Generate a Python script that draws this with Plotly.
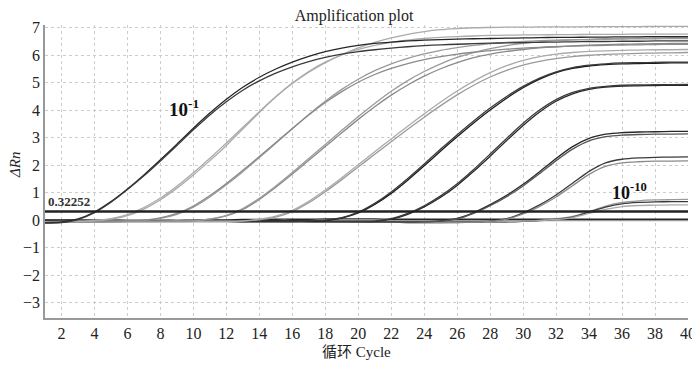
import plotly.graph_objects as go

cycles = list(range(1, 41))
threshold = 0.32252
x_ticks = list(range(2, 41, 2))
y_ticks = list(range(-3, 8))

d1a = [-0.08,-0.06,0.05,0.30,0.68,1.14,1.65,2.20,2.77,3.35, 3.90,4.40,4.84,5.20,5.50,5.75,5.96,6.13,6.26,6.36, 6.43,6.48,6.52,6.55,6.57,6.59,6.60,6.61,6.62,6.63, 6.64,6.65,6.65,6.66,6.66,6.67,6.67,6.68,6.68,6.68]
d1b = [-0.10,-0.08,0.03,0.28,0.66,1.12,1.62,2.16,2.72,3.29, 3.83,4.31,4.73,5.07,5.35,5.58,5.77,5.92,6.04,6.13, 6.20,6.26,6.31,6.35,6.38,6.40,6.42,6.44,6.45,6.46, 6.47,6.48,6.49,6.50,6.50,6.51,6.51,6.52,6.52,6.52]
d2a = [-0.06,-0.05,-0.04,-0.02,0.04,0.17,0.41,0.75,1.17,1.65, 2.17,2.72,3.32,3.92,4.49,4.99,5.41,5.75,6.01,6.21, 6.36,6.47,6.55,6.61,6.65,6.68,6.70,6.72,6.73,6.74, 6.74,6.75,6.75,6.76,6.76,6.76,6.77,6.77,6.77,6.77]
d2b = [-0.05,-0.04,-0.03,-0.01,0.06,0.21,0.46,0.81,1.24,1.73, 2.26,2.81,3.38,3.95,4.49,4.97,5.38,5.73,6.02,6.27, 6.47,6.63,6.76,6.86,6.93,6.97,7.00,7.01,7.02,7.02, 7.03,7.03,7.03,7.04,7.04,7.04,7.04,7.05,7.05,7.05]
d3a = [-0.05,-0.05,-0.04,-0.04,-0.03,-0.02,0.00,0.07,0.22,0.48, 0.85,1.29,1.77,2.28,2.80,3.33,3.85,4.33,4.76,5.13, 5.44,5.69,5.89,6.05,6.18,6.28,6.36,6.42,6.47,6.50, 6.53,6.55,6.56,6.57,6.58,6.59,6.60,6.60,6.61,6.61]
d3b = [-0.06,-0.05,-0.05,-0.04,-0.03,-0.02,0.01,0.09,0.25,0.52, 0.90,1.34,1.82,2.32,2.83,3.34,3.83,4.28,4.68,5.02, 5.30,5.52,5.70,5.84,5.95,6.04,6.11,6.17,6.22,6.26, 6.29,6.31,6.33,6.35,6.36,6.37,6.38,6.39,6.40,6.40]
d4a = [-0.06,-0.06,-0.05,-0.05,-0.05,-0.04,-0.04,-0.04,-0.03,-0.02, 0.04,0.16,0.40,0.76,1.20,1.68,2.18,2.68,3.18,3.67, 4.13,4.55,4.92,5.24,5.51,5.73,5.91,6.04,6.14,6.21, 6.27,6.31,6.34,6.37,6.39,6.40,6.41,6.42,6.43,6.43]
d4b = [-0.05,-0.05,-0.05,-0.04,-0.04,-0.04,-0.03,-0.03,-0.02,-0.02, 0.05,0.18,0.43,0.80,1.25,1.74,2.25,2.76,3.27,3.77, 4.25,4.69,5.08,5.41,5.69,5.92,6.10,6.24,6.35,6.43, 6.49,6.53,6.56,6.58,6.60,6.61,6.62,6.63,6.64,6.64]
d5a = [-0.07,-0.07,-0.06,-0.06,-0.06,-0.05,-0.05,-0.05,-0.05,-0.04, -0.04,-0.04,-0.03,0.02,0.12,0.32,0.64,1.04,1.48,1.94, 2.40,2.86,3.31,3.75,4.17,4.56,4.91,5.21,5.45,5.64, 5.78,5.88,5.95,6.00,6.03,6.05,6.07,6.08,6.09,6.10]
d5b = [-0.06,-0.06,-0.06,-0.05,-0.05,-0.05,-0.05,-0.04,-0.04,-0.04, -0.03,-0.03,-0.02,0.04,0.15,0.36,0.69,1.10,1.55,2.02, 2.49,2.96,3.42,3.87,4.30,4.70,5.06,5.37,5.62,5.81, 5.95,6.04,6.10,6.14,6.16,6.18,6.19,6.20,6.20,6.21]
d6a = [-0.03,-0.03,-0.02,-0.02,-0.02,-0.02,-0.01,-0.01,-0.01,-0.01, -0.02,-0.02,-0.02,-0.03,-0.03,-0.03,-0.04,-0.01,0.08,0.27, 0.58,0.98,1.46,1.98,2.52,3.04,3.54,4.01,4.44,4.82, 5.13,5.37,5.52,5.61,5.66,5.69,5.70,5.71,5.72,5.72]
d6b = [-0.04,-0.03,-0.03,-0.03,-0.02,-0.02,-0.02,-0.02,-0.02,-0.02, -0.02,-0.03,-0.03,-0.03,-0.03,-0.04,-0.03,0.01,0.10,0.30, 0.62,1.03,1.52,2.05,2.59,3.11,3.61,4.08,4.50,4.87, 5.17,5.40,5.55,5.64,5.69,5.72,5.73,5.74,5.75,5.75]
d7a = [0.02,0.02,0.01,0.01,0.01,0.00,0.00,0.00,-0.01,-0.01, -0.01,-0.02,-0.02,-0.02,-0.03,-0.03,-0.03,-0.04,-0.04,-0.04, -0.04,0.04,0.22,0.49,0.84,1.27,1.78,2.33,2.90,3.45, 3.94,4.33,4.60,4.76,4.84,4.88,4.89,4.90,4.91,4.91]
d7b = [0.00,0.00,0.00,-0.01,-0.01,-0.01,-0.01,-0.02,-0.02,-0.02, -0.02,-0.03,-0.03,-0.03,-0.03,-0.04,-0.04,-0.04,-0.04,-0.04, -0.03,0.06,0.25,0.53,0.89,1.33,1.85,2.41,2.98,3.53, 4.01,4.39,4.65,4.80,4.87,4.91,4.92,4.93,4.93,4.94]
d8a = [-0.04,-0.04,-0.03,-0.03,-0.03,-0.02,-0.02,-0.02,-0.02,-0.02, -0.02,-0.03,-0.03,-0.03,-0.03,-0.04,-0.04,-0.04,-0.05,-0.05, -0.05,-0.05,-0.06,-0.05,-0.02,0.07,0.28,0.57,0.91,1.31, 1.77,2.25,2.68,2.98,3.13,3.19,3.21,3.22,3.23,3.23]
d8b = [-0.05,-0.05,-0.04,-0.04,-0.04,-0.03,-0.03,-0.03,-0.03,-0.03, -0.03,-0.03,-0.04,-0.04,-0.04,-0.05,-0.05,-0.05,-0.05,-0.06, -0.06,-0.06,-0.06,-0.05,-0.03,0.05,0.25,0.53,0.86,1.25, 1.70,2.17,2.59,2.89,3.04,3.10,3.12,3.13,3.13,3.14]
d9a = [-0.03,-0.03,-0.03,-0.02,-0.02,-0.02,-0.02,-0.02,-0.02,-0.02, -0.03,-0.03,-0.03,-0.03,-0.04,-0.04,-0.04,-0.05,-0.05,-0.05, -0.06,-0.06,-0.07,-0.07,-0.07,-0.06,-0.05,-0.03,0.06,0.27, 0.56,0.92,1.35,1.78,2.09,2.22,2.27,2.29,2.30,2.31]
d9b = [-0.04,-0.04,-0.04,-0.03,-0.03,-0.03,-0.03,-0.03,-0.03,-0.03, -0.04,-0.04,-0.04,-0.04,-0.05,-0.05,-0.05,-0.06,-0.06,-0.06, -0.07,-0.07,-0.08,-0.08,-0.08,-0.07,-0.06,-0.04,0.04,0.23, 0.51,0.85,1.26,1.67,1.96,2.09,2.13,2.15,2.15,2.16]
d10a = [-0.02,-0.02,-0.02,-0.02,-0.02,-0.02,-0.02,-0.02,-0.02,-0.03, -0.03,-0.03,-0.03,-0.03,-0.04,-0.04,-0.04,-0.04,-0.05,-0.05, -0.05,-0.06,-0.06,-0.06,-0.06,-0.06,-0.05,-0.05,-0.04,-0.02, 0.00,0.05,0.14,0.32,0.52,0.65,0.71,0.74,0.75,0.76]
d10b = [-0.05,-0.05,-0.05,-0.05,-0.05,-0.05,-0.05,-0.05,-0.05,-0.05, -0.05,-0.05,-0.06,-0.06,-0.06,-0.06,-0.06,-0.07,-0.07,-0.07, -0.07,-0.07,-0.08,-0.08,-0.08,-0.08,-0.07,-0.07,-0.06,-0.04, -0.01,0.04,0.12,0.30,0.48,0.60,0.65,0.67,0.68,0.68]
d10c = [-0.03,-0.03,-0.03,-0.03,-0.03,-0.03,-0.04,-0.04,-0.04,-0.04, -0.04,-0.04,-0.04,-0.05,-0.05,-0.05,-0.05,-0.05,-0.06,-0.06, -0.06,-0.06,-0.06,-0.07,-0.07,-0.07,-0.06,-0.06,-0.05,-0.03, -0.01,0.03,0.10,0.25,0.40,0.50,0.54,0.55,0.56,0.56]
ntc_a = [-0.08,-0.07,-0.06,-0.05,-0.04,-0.03,-0.02,-0.01,0.00,0.01, 0.02,0.02,0.03,0.03,0.04,0.04,0.04,0.05,0.05,0.05, 0.05,0.04,0.04,0.04,0.04,0.04,0.04,0.04,0.04,0.04, 0.04,0.04,0.04,0.04,0.04,0.04,0.04,0.04,0.04,0.04]
ntc_b = [0.02,0.02,0.02,0.01,0.01,0.01,0.01,0.01,0.00,0.00, 0.00,0.00,0.00,-0.01,-0.01,-0.01,-0.01,-0.01,-0.01,-0.01, -0.01,-0.01,-0.01,-0.01,-0.01,-0.01,-0.01,-0.01,-0.01,-0.01, -0.01,-0.01,-0.01,-0.01,-0.01,-0.01,-0.01,-0.01,-0.01,-0.01]

DARK = "#262626"
DARK2 = "#3a3a3a"
GRAY = "#9a9a9a"
GRAY2 = "#aaaaaa"
GRAY3 = "#8a8a8a"

series = [
    (ntc_b, GRAY), (ntc_a, DARK),
    (d10a, GRAY), (d10b, DARK2), (d10c, GRAY2),
    (d9a, DARK2), (d9b, GRAY3),
    (d8a, DARK), (d8b, "#555555"),
    (d7a, DARK), (d7b, DARK2),
    (d6a, "#1a1a1a"), (d6b, DARK2),
    (d5a, GRAY), (d5b, GRAY2),
    (d4a, GRAY3), (d4b, GRAY),
    (d3a, GRAY), (d3b, GRAY3),
    (d2a, GRAY2), (d2b, GRAY2),
    (d1a, DARK), (d1b, DARK2),
]

SERIF = "Liberation Serif, Times New Roman, Noto Sans CJK SC, serif"

# The page body has an 8 px default margin, so the figure is drawn 8 px smaller
W, H = 692, 357

fig = go.Figure()
for vals, col in series:
    fig.add_trace(go.Scatter(x=cycles, y=vals, mode="lines",
                             line=dict(color=col, width=1.3, shape="spline", smoothing=0.6),
                             hoverinfo="skip", showlegend=False))

fig.add_trace(go.Scatter(x=[cycles[0], cycles[-1]], y=[threshold, threshold], mode="lines",
                         line=dict(color="#222222", width=2.6), showlegend=False, hoverinfo="skip"))

fig.add_annotation(x=cycles[0], y=threshold, xref="x", yref="y", text="<b>0.32252</b>",
                   showarrow=False, xanchor="left", yanchor="bottom", xshift=1, yshift=0,
                   font=dict(family=SERIF, size=13, color="#333333"))
fig.add_annotation(x=8.4, y=4.07, xref="x", yref="y", text="<b>10<sup>-1</sup></b>",
                   showarrow=False, xanchor="left", yanchor="middle",
                   font=dict(family=SERIF, size=19, color="#111111"))
fig.add_annotation(x=35.26, y=1.04, xref="x", yref="y", text="<b>10<sup>-10</sup></b>",
                   showarrow=False, xanchor="left", yanchor="middle",
                   font=dict(family=SERIF, size=18, color="#111111"))
fig.add_annotation(x=0, y=0.522, xref="paper", yref="paper", text="<i>ΔRn</i>",
                   showarrow=False, textangle=-90, xanchor="center", yanchor="middle", xshift=-30,
                   font=dict(family=SERIF, size=15, color="#222222"))
fig.add_annotation(x=0.485, y=-0.116, xref="paper", yref="paper", text="循环 Cycle",
                   showarrow=False, xanchor="center", yanchor="middle",
                   font=dict(family=SERIF, size=15, color="#222222"))

fig.update_layout(
    width=W, height=H,
    margin=dict(l=37, r=12, t=17, b=47, autoexpand=False),
    paper_bgcolor="white", plot_bgcolor="white",
    title=dict(text="Amplification plot", x=0.5, xanchor="center", xref="container",
               y=0.978, yref="container", yanchor="middle",
               font=dict(family=SERIF, size=16, color="#222222")),
    font=dict(family=SERIF, size=16, color="#222222"),
)
fig.update_xaxes(range=[1, 40], tickmode="array", tickvals=x_ticks, automargin=False,
                 showgrid=True, gridcolor="#cccccc", griddash="dot", gridwidth=1,
                 zeroline=False, showline=True, linecolor="#999999", linewidth=1.5,
                 ticks="", tickfont=dict(family=SERIF, size=16, color="#222222"))
fig.update_yaxes(range=[-3.55, 7.1], tickmode="array", tickvals=y_ticks, automargin=False,
                 showgrid=True, gridcolor="#cccccc", griddash="dot", gridwidth=1,
                 zeroline=False, showline=True, linecolor="#999999", linewidth=1.5,
                 ticks="", tickfont=dict(family=SERIF, size=16, color="#222222"))

fig.write_html("out.html")
